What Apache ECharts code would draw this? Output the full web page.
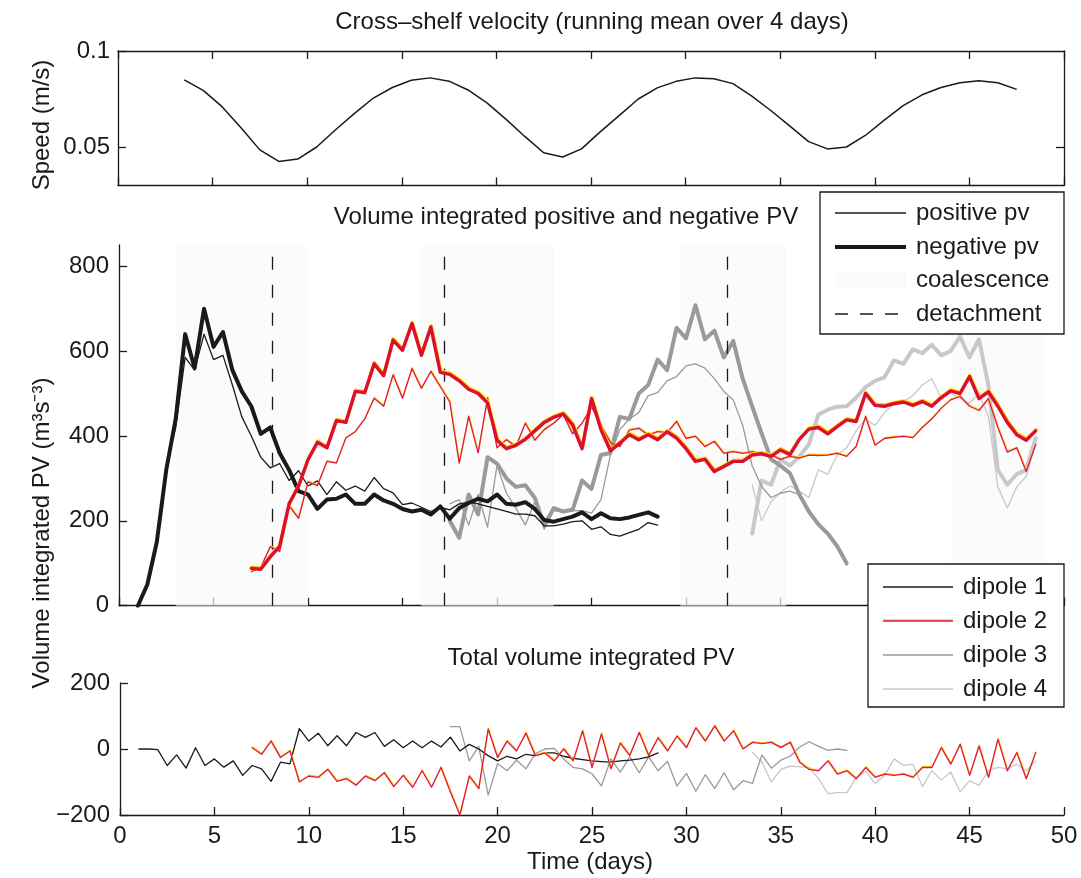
<!DOCTYPE html>
<html>
<head>
<meta charset="utf-8">
<script src="https://cdn.jsdelivr.net/npm/echarts@6/dist/echarts.min.js"></script>
<style>
  html, body { margin: 0; padding: 0; background: #fff; }
  #chart { width: 1081px; height: 878px; }
</style>
</head>
<body>
<div id="chart"></div>
<script>
// ---------- data ----------
// Cross-shelf speed, running mean over 4 days (m/s), one value per day from day 3.5
const speedStart = 3.5, speedStep = 1;
const speed = [0.085, 0.0795, 0.071, 0.060, 0.0485, 0.0425, 0.0437, 0.050, 0.059, 0.0675,
  0.0755, 0.081, 0.0848, 0.086, 0.0843, 0.0797, 0.073, 0.0645, 0.0555, 0.047,
  0.0448, 0.049, 0.058, 0.0665, 0.075, 0.0808, 0.0842, 0.086, 0.0855, 0.083,
  0.0765, 0.069, 0.061, 0.0528, 0.049, 0.050, 0.056, 0.064, 0.0715, 0.0772,
  0.081, 0.0835, 0.0845, 0.0835, 0.080];

// Volume integrated PV (m^3 s^-3), sampled every half day
const pvStep = 0.5;
const d1Start = 1.0;
const d1Pos = [0, 50, 150, 330, 420, 585, 555, 640, 580, 590, 520, 445, 400, 350, 325, 335, 295, 318, 282, 294,
  262, 292, 272, 282, 270, 302, 276, 266, 238, 242, 232, 222, 232, 226, 240, 244, 240, 234, 228, 222,
  216, 216, 212, 188, 188, 192, 198, 200, 180, 186, 168, 164, 172, 180, 196, 190];
const d1Neg = [0, 50, 150, 320, 440, 640, 560, 700, 610, 645, 555, 505, 470, 405, 420, 360, 320, 270, 262, 228,
  250, 252, 262, 240, 240, 262, 248, 240, 228, 222, 226, 215, 234, 205, 230, 242, 252, 246, 262, 240,
  238, 244, 228, 202, 198, 204, 210, 220, 204, 218, 206, 204, 208, 214, 220, 210];

const d2Start = 7.0;
const d2Pos = [80, 90, 139, 128, 235, 206, 292, 283, 340, 336, 395, 410, 440, 489, 470, 544, 489, 559, 512, 552,
  516, 480, 336, 446, 360, 490, 372, 391, 375, 430, 390, 415, 430, 450, 405, 430, 469, 425, 385, 375,
  414, 418, 402, 410, 408, 434, 394, 399, 375, 387, 359, 363, 359, 363, 356, 355, 345, 352, 348, 355,
  354, 355, 359, 352, 375, 446, 378, 394, 397, 399, 396, 420, 440, 465, 485, 493, 470, 460, 488, 420,
  362, 372, 316, 380];
const d2Neg = [88, 86, 115, 140, 240, 282, 344, 385, 372, 436, 432, 505, 502, 570, 542, 626, 602, 665, 590, 657,
  550, 545, 530, 510, 500, 478, 390, 370, 378, 392, 412, 432, 444, 452, 426, 370, 488, 415, 365, 383,
  403, 391, 403, 391, 410, 395, 370, 340, 345, 316, 328, 340, 340, 355, 358, 352, 367, 356, 392, 416,
  420, 405, 422, 438, 434, 500, 472, 470, 476, 480, 472, 481, 470, 490, 506, 500, 540, 488, 504, 470,
  432, 403, 390, 412];

const d3Start = 17.5;
const d3Pos = [240, 250, 190, 262, 185, 330, 265, 230, 190, 245, 180, 224, 222, 224, 224, 218, 250, 355, 415, 440,
  455, 495, 502, 530, 540, 565, 570, 560, 535, 505, 485, 425, 330, 281, 255, 265, 270, 262, 226, 196,
  170, 140, 95];
const d3Neg = [200, 160, 262, 215, 350, 335, 300, 280, 284, 254, 190, 230, 222, 226, 295, 275, 355, 360, 445, 440,
  500, 520, 580, 555, 655, 630, 708, 628, 648, 585, 624, 535, 470, 406, 345, 330, 312, 262, 222, 192,
  170, 140, 100];

const d4Start = 33.5;
const d4Pos = [285, 200, 245, 268, 282, 270, 255, 320, 310, 355, 372, 412, 440, 425, 455, 475, 480, 495, 520, 535,
  490, 500, 490, 477, 500, 446, 280, 230, 280, 305, 380];
const d4Neg = [170, 295, 285, 345, 330, 352, 380, 450, 462, 469, 470, 490, 515, 530, 538, 578, 570, 604, 595, 615,
  590, 600, 634, 585, 628, 520, 320, 285, 310, 320, 395];

// Total volume integrated PV per dipole
const d1Total = [0, 0, -2, -50, -18, -58, 4, -50, -30, -55, -36, -80, -50, -60, -98, -40, -45, 62, 24, 48,
  10, 40, 10, 50, 35, 50, 8, 28, 4, 24, 4, 24, 6, 36, -6, 14, 0, -20, -36, -22,
  -30, -16, -20, -12, -12, -22, -28, -32, -36, -38, -40, -36, -34, -30, -24, -12];
const d2Total = [4, -16, 24, -26, -6, -100, -82, -86, -62, -98, -90, -110, -82, -96, -72, -114, -80, -116, -66, -116,
  -56, -130, -200, -82, -120, 60, -26, 24, -6, 48, -20, -12, -36, 0, -36, 55, -56, 46, -60, 18,
  -20, 50, -20, 34, -6, 39, 4, 64, 24, 70, 24, 55, 0, 20, 16, 20, 4, 20, -40, -62,
  -66, -36, -76, -66, -90, -56, -86, -76, -80, -76, -86, -56, -56, 4, -46, 14, -80, 9, -86, 30,
  -66, -11, -90, -11];
const d3Total = [68, 68, -36, 8, -140, -44, -66, -34, -60, -14, 0, 2, -30, -56, -60, -75, -112, -30, -70, -24,
  -72, -24, -66, -38, -112, -74, -128, -78, -120, -72, -124, -96, -104, -18, -58, -34, -22, 6, 22, 8,
  -4, 0, -4];
const d4Total = [-10, -40, -100, -62, -52, -54, -56, -90, -135, -132, -132, -86, -68, -104, -80, -30, -50, -46, -114, -66,
  -94, -70, -130, -96, -110, -66, -56, -60, -46, -66, -36];

// Events (days)
const coalescence = [[3, 10], [16, 23], [29.7, 35.3], [44, 49]];
const detachment = [8.1, 17.2, 32.2];

// Tick labels
const speedTicks = [0.05, 0.1];
const pvTicks = [0, 200, 400, 600, 800];

// ---------- styling ----------
const FONT = 'Liberation Sans, Arial, Helvetica, sans-serif';
const FS = 24;
const INK = '#1a1a1a';
const RED = '#dc0f2e';
const RED_THIN = '#e0164f';
const YEL = '#ffd400';
const GRAY3 = '#9a9a9a';
const GRAY4 = '#c8c8c8';
const PATCH = 'rgba(250,250,250,0.7)';
const THIN = 1.3, THICK = 4;

function pairs(start, step, vals) {
  return vals.map((v, i) => [start + i * step, v]);
}

const axisLine = { show: true, onZero: false, lineStyle: { color: INK, width: 1.3 } };
function tick(extra) {
  return Object.assign({ show: true, inside: true, length: 8, lineStyle: { color: INK, width: 1.3 } }, extra || {});
}
const tickLabel = { fontFamily: FONT, fontSize: FS, color: INK };
const minus = v => String(v).replace('-', '\u2212');

function xAxis(gridIndex, position, showLabel) {
  return {
    type: 'value', gridIndex, position, min: 0, max: 50, interval: 5,
    axisLine, axisTick: tick(), splitLine: { show: false },
    axisLabel: showLabel ? Object.assign({ margin: 9 }, tickLabel) : { show: false }
  };
}

function pvLine(name, xi, data, color, width, fringe, z) {
  const ls = { color, width, join: 'round', cap: 'round' };
  if (fringe) {
    const off = width > 2 ? -1.2 : -0.8;
    Object.assign(ls, { shadowColor: YEL, shadowBlur: 0.5, shadowOffsetX: 0.4, shadowOffsetY: off });
  }
  return {
    name, type: 'line', xAxisIndex: xi, yAxisIndex: xi, data,
    symbol: 'none', showSymbol: false, silent: true, z: z || 3, lineStyle: ls
  };
}

const series = [
  // speed
  { name: 'speed', type: 'line', xAxisIndex: 0, yAxisIndex: 0, data: pairs(speedStart, speedStep, speed),
    symbol: 'none', silent: true, lineStyle: { color: INK, width: 1.5 } },

  // coalescence shading and detachment markers
  { name: 'events', type: 'line', xAxisIndex: 2, yAxisIndex: 2, data: [], z: 1, silent: true,
    markArea: { silent: true, itemStyle: { color: PATCH },
      data: coalescence.map(c => [{ xAxis: c[0] }, { xAxis: c[1] }]) },
    markLine: { silent: true, symbol: 'none', label: { show: false },
      lineStyle: { color: INK, width: 1.3, type: [13, 15] },
      data: detachment.map(d => ({ xAxis: d })) } },

  // volume integrated positive / negative PV
  pvLine('dipole 4 positive', 2, pairs(d4Start, pvStep, d4Pos), GRAY4, THIN, false, 3),
  pvLine('dipole 4 negative', 2, pairs(d4Start, pvStep, d4Neg), GRAY4, THICK, false, 3),
  pvLine('dipole 3 positive', 2, pairs(d3Start, pvStep, d3Pos), GRAY3, THIN, false, 4),
  pvLine('dipole 3 negative', 2, pairs(d3Start, pvStep, d3Neg), GRAY3, THICK, false, 4),
  pvLine('dipole 1 positive', 2, pairs(d1Start, pvStep, d1Pos), INK, THIN, false, 5),
  pvLine('dipole 1 negative', 2, pairs(d1Start, pvStep, d1Neg), INK, THICK, false, 5),
  pvLine('dipole 2 positive', 2, pairs(d2Start, pvStep, d2Pos), RED_THIN, THIN, true, 6),
  pvLine('dipole 2 negative', 2, pairs(d2Start, pvStep, d2Neg), RED, 3.4, true, 6),

  // totals
  pvLine('dipole 4 total', 3, pairs(d4Start, pvStep, d4Total), GRAY4, THIN, false, 3),
  pvLine('dipole 3 total', 3, pairs(d3Start, pvStep, d3Total), GRAY3, THIN, false, 4),
  pvLine('dipole 1 total', 3, pairs(d1Start, pvStep, d1Total), INK, THIN, false, 5),
  pvLine('dipole 2 total', 3, pairs(d2Start, pvStep, d2Total), RED_THIN, THIN, true, 6)
];

// ---------- annotations ----------
function label(text, x, y, opts) {
  return Object.assign({
    type: 'text', x, y, z: 100, silent: true,
    style: { text, fontFamily: FONT, fontSize: FS, fill: INK,
      textAlign: 'center', textVerticalAlign: 'middle', align: 'center', verticalAlign: 'middle' }
  }, opts || {});
}
function leftLabel(text, x, y) {
  return {
    type: 'text', x, y, z: 100, silent: true,
    style: { text, fontFamily: FONT, fontSize: FS, fill: INK,
      textAlign: 'left', textVerticalAlign: 'middle', align: 'left', verticalAlign: 'middle' }
  };
}
function seg(x1, x2, y, style) {
  return { type: 'line', z: 100, silent: true, shape: { x1, y1: y, x2, y2: y },
    style: Object.assign({ stroke: INK, lineWidth: THIN }, style) };
}
function box(x, y, w, h) {
  return { type: 'rect', z: 99, silent: true, shape: { x, y, width: w, height: h },
    style: { fill: '#fff', stroke: INK, lineWidth: 1.3 } };
}

const graphic = [
  label('Cross\u2013shelf velocity (running mean over 4 days)', 592, 22),
  label('Volume integrated positive and negative PV', 566, 217),
  label('Total volume integrated PV', 591, 658),
  label('Time (days)', 590, 862),
  label('Speed (m/s)', 42, 125, { rotation: Math.PI / 2 }),
  label('Volume integrated PV (m\u00B3s\u207B\u00B3)', 42, 533, { rotation: Math.PI / 2 }),

  // legend: PV sign and events
  box(820, 192, 244, 142),
  seg(835, 906, 213, {}),
  seg(835, 906, 247, { lineWidth: THICK }),
  { type: 'rect', z: 100, silent: true, shape: { x: 835, y: 271, width: 71, height: 18 },
    style: { fill: PATCH } },
  seg(835, 906, 314, { lineDash: [13, 12] }),
  leftLabel('positive pv', 916, 213),
  leftLabel('negative pv', 916, 247),
  leftLabel('coalescence', 916, 280),
  leftLabel('detachment', 916, 314),

  // legend: dipoles
  box(868, 564, 196, 143),
  seg(883, 953, 587, {}),
  seg(883, 953, 621, { stroke: RED_THIN, lineWidth: 1.6, shadowColor: YEL, shadowBlur: 0.5, shadowOffsetY: -1.0 }),
  seg(883, 953, 655, { stroke: GRAY3 }),
  seg(883, 953, 689, { stroke: GRAY4 }),
  leftLabel('dipole 1', 963, 587),
  leftLabel('dipole 2', 963, 621),
  leftLabel('dipole 3', 963, 655),
  leftLabel('dipole 4', 963, 689)
];

const option = {
  animation: false,
  backgroundColor: '#fff',
  grid: [
    { left: 118, top: 51, width: 946, height: 134.4 },
    { left: 119, top: 245, width: 945, height: 360.7 },
    { left: 120, top: 683, width: 944, height: 132 }
  ],
  xAxis: [
    xAxis(0, 'bottom', false),
    xAxis(0, 'top', false),
    xAxis(1, 'bottom', false),
    xAxis(2, 'bottom', true)
  ],
  yAxis: [
    { type: 'value', gridIndex: 0, position: 'left', min: 0.03, max: 0.1,
      axisLine, splitLine: { show: false },
      axisTick: tick({ customValues: speedTicks }),
      axisLabel: Object.assign({ customValues: speedTicks, margin: 8 }, tickLabel) },
    { type: 'value', gridIndex: 0, position: 'right', min: 0.03, max: 0.1,
      axisLine, splitLine: { show: false },
      axisTick: tick({ customValues: [speedTicks[0]] }),
      axisLabel: { show: false } },
    { type: 'value', gridIndex: 1, position: 'left', min: 0, max: 850,
      axisLine, splitLine: { show: false },
      axisTick: tick({ customValues: pvTicks }),
      axisLabel: Object.assign({ customValues: pvTicks, margin: 10 }, tickLabel) },
    { type: 'value', gridIndex: 2, position: 'left', min: -200, max: 200, interval: 200,
      axisLine, splitLine: { show: false },
      axisTick: tick(),
      axisLabel: Object.assign({ margin: 10, formatter: minus }, tickLabel) }
  ],
  series,
  graphic
};

const chart = echarts.init(document.getElementById('chart'), null, { renderer: 'canvas' });
chart.setOption(option);
</script>
</body>
</html>
